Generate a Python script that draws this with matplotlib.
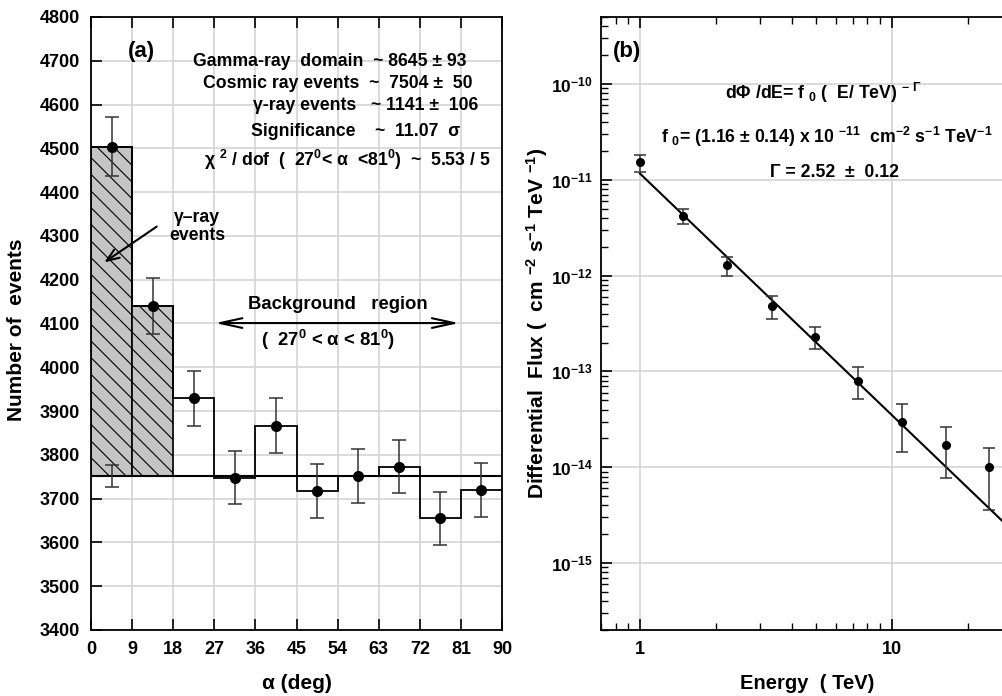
import numpy as np
import matplotlib
matplotlib.use('Agg')
from matplotlib import pyplot as plt
from matplotlib.ticker import LogLocator, NullFormatter

# -- fonts --
plt.rcParams['font.family'] = ['Liberation Sans', 'DejaVu Sans']
plt.rcParams['font.weight'] = 'bold'
plt.rcParams['axes.labelweight'] = 'bold'
plt.rcParams['mathtext.fontset'] = 'custom'
plt.rcParams['mathtext.rm'] = 'Liberation Sans:bold'
plt.rcParams['mathtext.bf'] = 'Liberation Sans:bold'
plt.rcParams['mathtext.it'] = 'Liberation Sans:bold:italic'
plt.rcParams['mathtext.default'] = 'bf'
plt.rcParams['hatch.linewidth'] = 0.8

# -- data panel (a): alpha distribution --
alpha_edges = [0, 9, 18, 27, 36, 45, 54, 63, 72, 81, 90]
alpha_centers = [4.5, 13.5, 22.5, 31.5, 40.5, 49.5, 58.5, 67.5, 76.5, 85.5]
counts = [4504, 4139, 3929, 3748, 3867, 3717, 3752, 3773, 3655, 3720]
counts_err = [67, 64, 63, 61, 62, 61, 61, 61, 60, 61]
bg_level = 3752
bg_err = 25

# -- data panel (b): spectrum --
energy = [1.0, 1.48, 2.21, 3.34, 4.95, 7.33, 10.96, 16.4, 24.3]
flux = [1.54e-11, 4.2e-12, 1.30e-12, 4.87e-13, 2.3e-13, 7.9e-14, 3.0e-14, 1.7e-14, 1.0e-14]
flux_hi = [1.82e-11, 4.9e-12, 1.58e-12, 6.1e-13, 2.9e-13, 1.1e-13, 4.6e-14, 2.6e-14, 1.6e-14]
flux_lo = [1.21e-11, 3.45e-12, 1.0e-12, 3.5e-13, 1.7e-13, 5.1e-14, 1.44e-14, 7.7e-15, 3.6e-15]
f0 = 1.16e-11
gamma = 2.52
fit_range = [1.0, 40.0]

ytick_vals = [1e-15, 1e-14, 1e-13, 1e-12, 1e-11, 1e-10]
ytick_labels = [r'$10^{-15}$', r'$10^{-14}$', r'$10^{-13}$', r'$10^{-12}$', r'$10^{-11}$', r'$10^{-10}$']

W, H = 1003, 696
fig = plt.figure(figsize=(W / 100, H / 100), dpi=100)

grid_col = '#d4d4d4'
txt_size = 12.7

# ---------------- panel (a) ----------------
ax1 = fig.add_axes([91 / W, 66 / H, 411 / W, 613 / H])
ax1.set_xlim(0, 90)
ax1.set_ylim(3400, 4800)
ax1.set_xticks(alpha_edges)
ax1.set_yticks(np.arange(3400, 4801, 100))
ax1.grid(True, color=grid_col, lw=1.2, zorder=0)
ax1.set_axisbelow(True)
ax1.tick_params(direction='in', length=8, width=1.2, labelsize=13, pad=8, top=True)
for sp in ax1.spines.values():
    sp.set_linewidth(1.3)

# hatched gamma-ray excess bars
c = np.array(counts)
ax1.bar(alpha_centers[:2], c[:2] - bg_level, bottom=bg_level, width=9,
        color='#c4c4c4', hatch='\\\\', edgecolor='black', lw=1.2, zorder=2)
ax1.stairs(counts, alpha_edges, baseline=None, color='black', lw=1.3, zorder=3)
ax1.axhline(bg_level, color='black', lw=1.5, zorder=3)
ax1.errorbar(alpha_centers, counts, yerr=counts_err, fmt='o', color='black',
             ecolor='#333333', ms=7, capsize=5, elinewidth=1.1, capthick=1.1, zorder=4)
ax1.errorbar([alpha_centers[0]], [bg_level], yerr=[bg_err], fmt='none',
             ecolor='#333333', capsize=5, elinewidth=1.1, capthick=1.1, zorder=4)

ax1.text(0.122, 0.943, '(a)', transform=ax1.transAxes, fontsize=16,
         ha='center', va='center')
txt_lines = [
    (0.248, 0.927, 'Gamma-ray  domain  ~ 8645 ± 93'),
    (0.272, 0.891, 'Cosmic ray events  ~  7504 ±  50'),
    (0.394, 0.856, 'γ-ray events   ~ 1141 ±  106'),
    (0.389, 0.814, 'Significance    ~  11.07  σ'),
    (0.275, 0.767, r'χ $^{2}$ / dof  (  27$^{0}$< α  <81$^{0}$)  ~  5.53 / 5'),
]
for tx, ty, s in txt_lines:
    ax1.text(tx, ty, s, transform=ax1.transAxes, fontsize=txt_size, ha='left', va='center')

ax1.annotate('', xy=(2.4, 4236), xytext=(14.9, 4325),
             arrowprops=dict(arrowstyle='->,head_length=0.9,head_width=0.35', lw=1.5, color='black'))
ax1.text(23.2, 4322, 'γ–ray\nevents', fontsize=txt_size, ha='center', va='center', linespacing=1.1)

ax1.annotate('', xy=(81.2, 4101), xytext=(26.6, 4101),
             arrowprops=dict(arrowstyle='<->,head_length=1.6,head_width=0.35', lw=1.5, color='black'))
ax1.text(54.0, 4144, 'Background   region', fontsize=13.3, ha='center', va='center')
ax1.text(52.0, 4062, r'(  27$^{0}$ < α < 81$^{0}$)', fontsize=13.3, ha='center', va='center')

ax1.set_xlabel('α (deg)', fontsize=15)
ax1.xaxis.set_label_coords(0.5, -0.072)
ax1.set_ylabel('Number of  events', fontsize=15)
ax1.yaxis.set_label_coords(-0.158, 0.49)

# ---------------- panel (b) ----------------
ax2 = fig.add_axes([601 / W, 66 / H, 411 / W, 613 / H])
ax2.set_xscale('log')
ax2.set_yscale('log')
ax2.set_xlim(0.7, 30)
ax2.set_ylim(2e-16, 5e-10)
ax2.set_xticks([1, 10], labels=['1', '10'])
ax2.xaxis.set_minor_locator(LogLocator(base=10, subs=np.arange(2, 10)))
ax2.xaxis.set_minor_formatter(NullFormatter())
ax2.set_yticks(ytick_vals, labels=ytick_labels)
ax2.yaxis.set_minor_locator(LogLocator(base=10, subs=np.arange(2, 10), numticks=20))
ax2.yaxis.set_minor_formatter(NullFormatter())
ax2.grid(True, which='major', color=grid_col, lw=1.2, zorder=0)
ax2.set_axisbelow(True)
ax2.tick_params(which='major', direction='in', length=8, width=1.2, labelsize=13, pad=8, top=True)
ax2.tick_params(axis='y', which='major', labelsize=12.5, pad=6)
ax2.tick_params(which='minor', direction='in', length=5, width=1.0, top=True)
for sp in ax2.spines.values():
    sp.set_linewidth(1.3)

e_fit = np.array(fit_range)
ax2.plot(e_fit, f0 * e_fit ** (-gamma), color='black', lw=1.5, zorder=3)
fl = np.array(flux)
yerr = [fl - np.array(flux_lo), np.array(flux_hi) - fl]
ax2.errorbar(energy, flux, yerr=yerr, fmt='o', color='black', ecolor='#333333',
             ms=5.5, capsize=4, elinewidth=1.1, capthick=1.1, zorder=4)

ax2.text(0.063, 0.943, '(b)', transform=ax2.transAxes, fontsize=16, ha='center', va='center')
ax2.text(0.54, 0.876, r'dΦ /dE= f $_{0}$ (  E/ TeV) $^{-\ Γ}$', transform=ax2.transAxes,
         fontsize=txt_size, ha='center', va='center')
ax2.text(0.55, 0.804, r'f $_{0}$= (1.16 ± 0.14) x 10 $^{-11}$  cm$^{-2}$ s$^{-1}$ TeV$^{-1}$',
         transform=ax2.transAxes, fontsize=txt_size, ha='center', va='center')
ax2.text(0.569, 0.746, 'Γ = 2.52  ±  0.12', transform=ax2.transAxes,
         fontsize=txt_size, ha='center', va='center')

ax2.set_xlabel('Energy  ( TeV)', fontsize=14.5)
ax2.xaxis.set_label_coords((807 - 601) / 411, -0.072)
ax2.set_ylabel(r'Differential  Flux (  cm $^{-2}$ s$^{-1}$ TeV $^{-1}$)', fontsize=15)
ax2.yaxis.set_label_coords(-0.124, 0.5)

fig.savefig('out.png', dpi=100)
